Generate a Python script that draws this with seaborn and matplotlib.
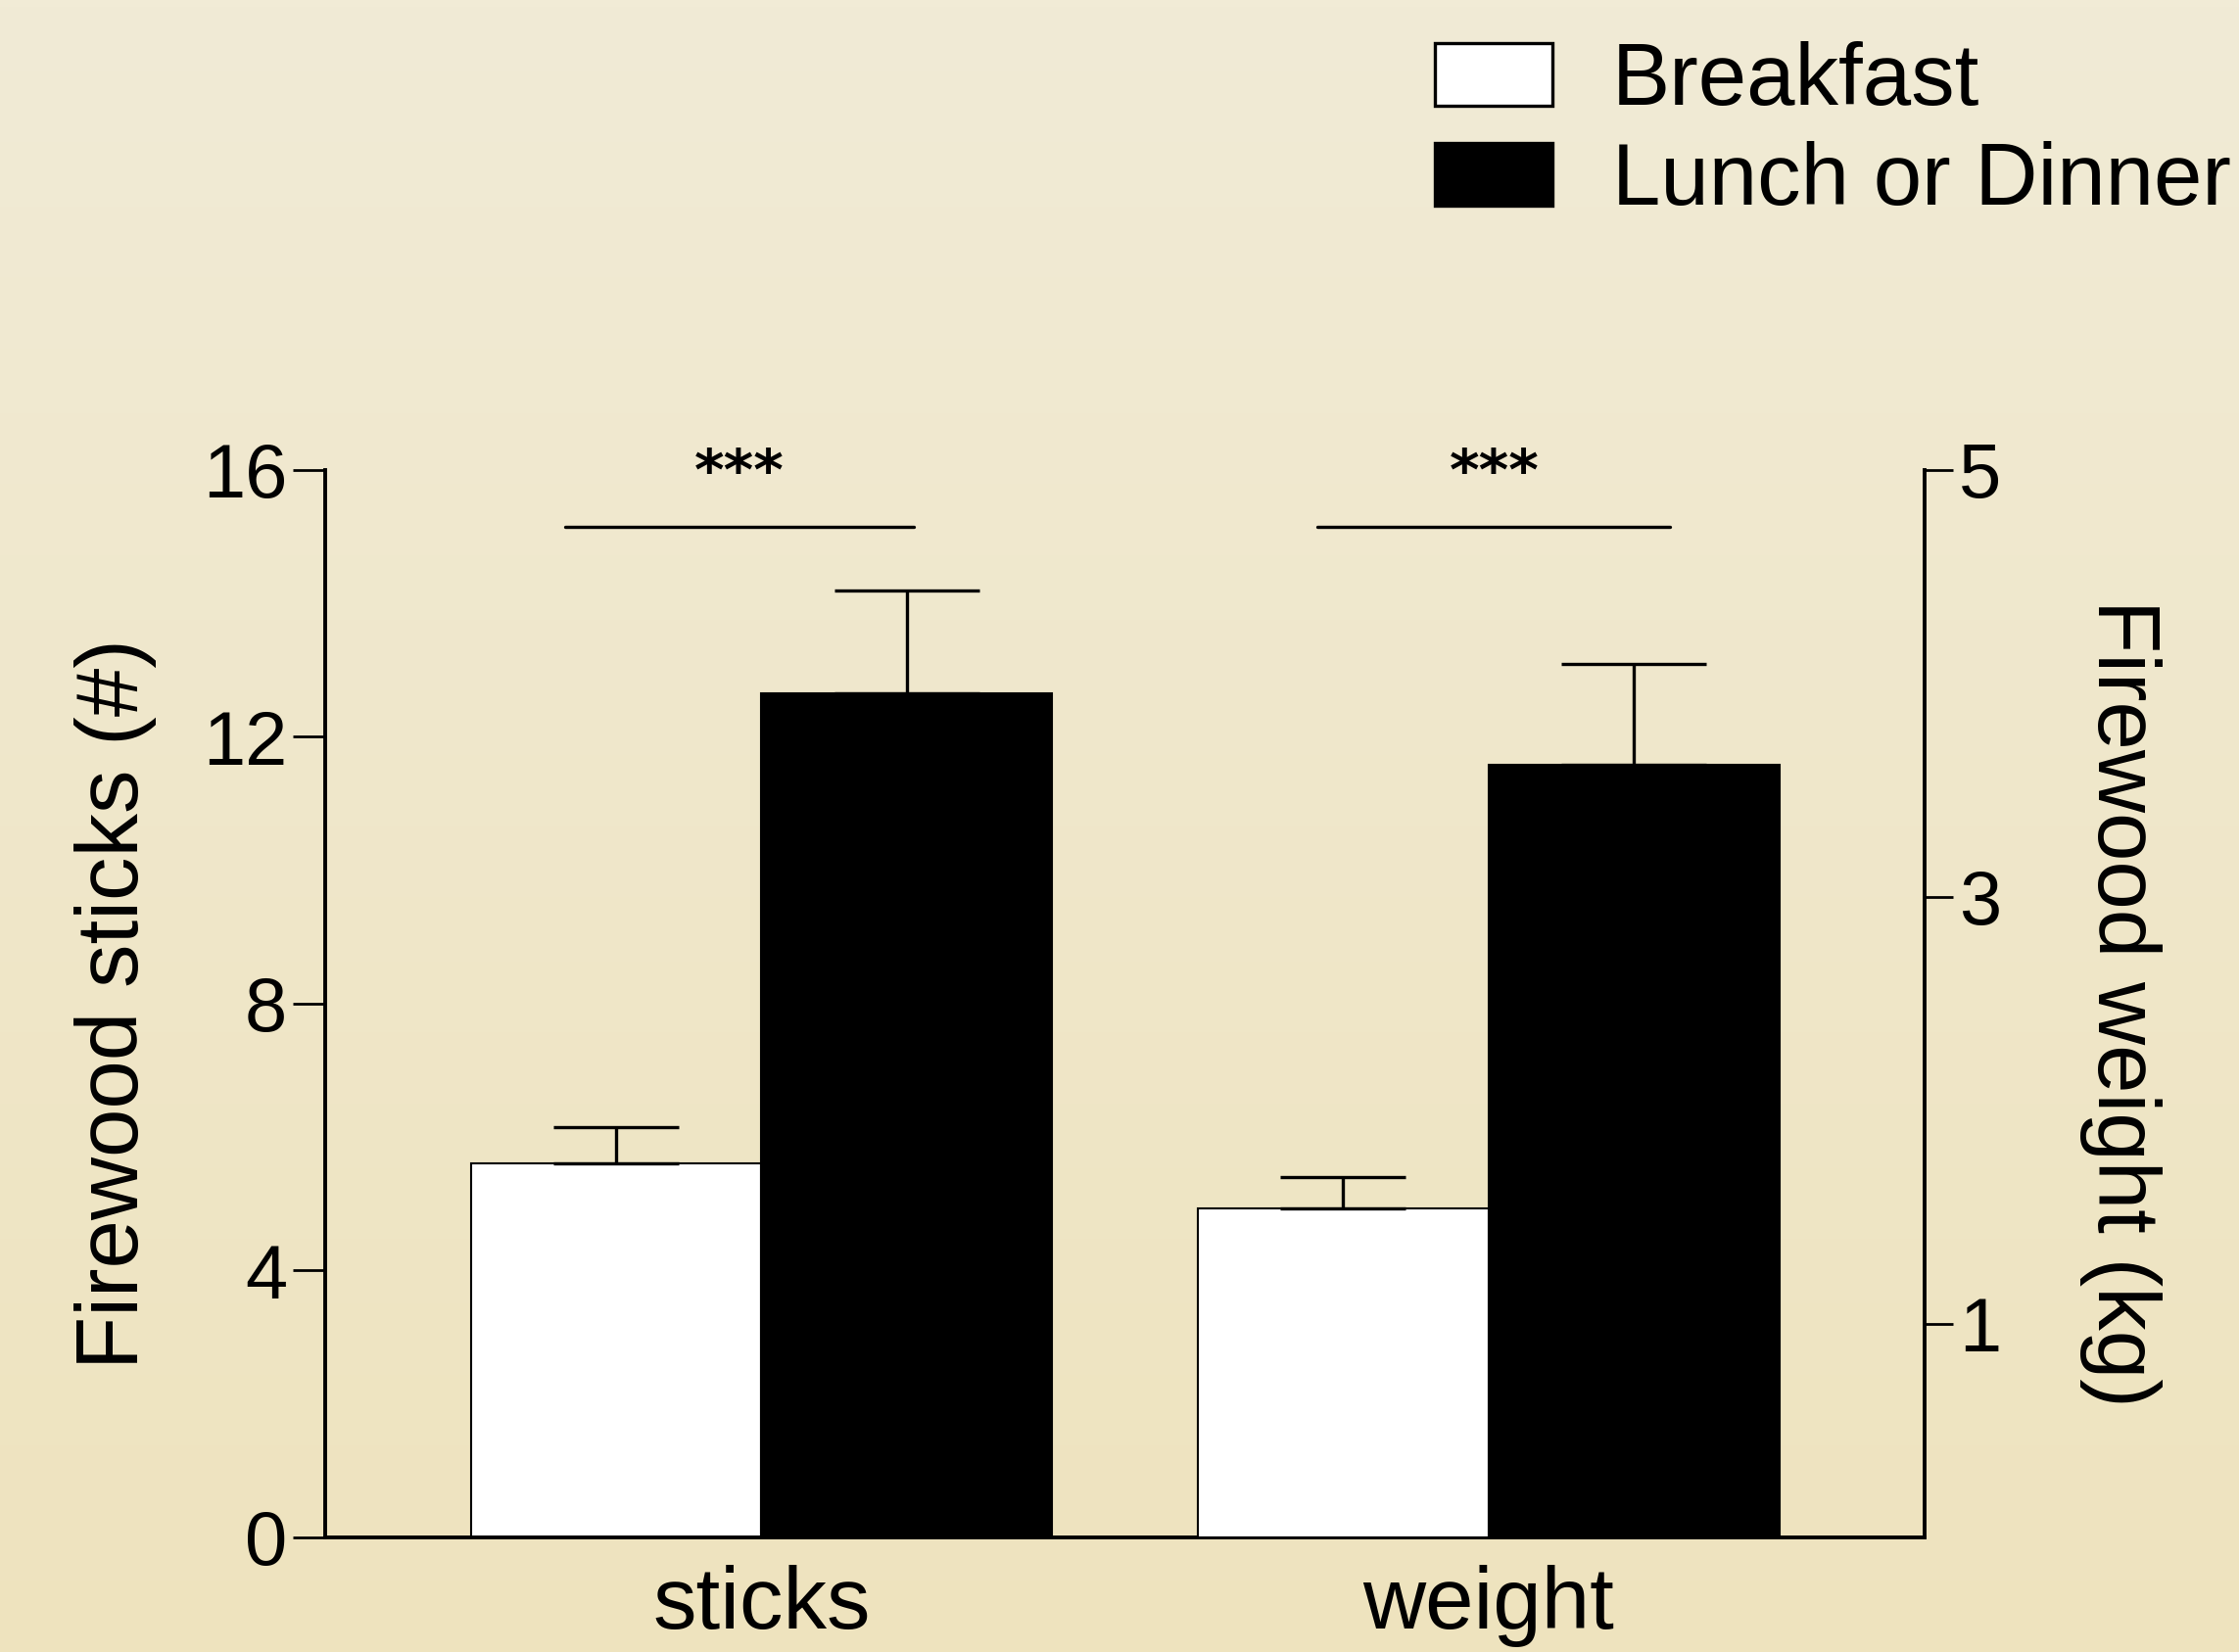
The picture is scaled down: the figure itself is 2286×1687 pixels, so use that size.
import numpy as np
import pandas as pd
import seaborn as sns
import matplotlib.pyplot as plt
from matplotlib.colors import LinearSegmentedColormap
from matplotlib.patches import Patch

sns.set_style("ticks")
plt.rcParams['font.family'] = ['Liberation Sans Narrow', 'Liberation Sans', 'DejaVu Sans']
for k in ['text.color', 'axes.labelcolor', 'xtick.color', 'ytick.color',
          'axes.edgecolor']:
    plt.rcParams[k] = 'black'

# values
meals = ['Breakfast', 'Lunch or Dinner']
sticks_mean = [5.6, 12.65]
sticks_err = [0.55, 1.55]
weight_mean = [1.54, 3.62]
weight_err = [0.15, 0.47]
categories = ['sticks', 'weight']
left_ticks = [0, 4, 8, 12, 16]
right_ticks = [1, 3, 5]
stars = ['***', '***']

df = pd.DataFrame({'measure': ['sticks'] * 2 + ['weight'] * 2,
                   'meal': meals * 2,
                   'value': sticks_mean + weight_mean,
                   'err': sticks_err + weight_err})

fig = plt.figure(figsize=(22.86, 16.87), dpi=100)

# cream gradient background
bg = fig.add_axes([0, 0, 1, 1], zorder=-10)
cmap = LinearSegmentedColormap.from_list('cream', ['#EEE3BE', '#F1EBD6'])
bg.imshow(np.linspace(0, 1, 256).reshape(-1, 1), cmap=cmap, aspect='auto',
          origin='lower', extent=[0, 1, 0, 1])
bg.set_axis_off()

ax = fig.add_axes([0.1453, 0.0694, 0.7143, 0.6461])
ax.set_facecolor('none')
ax2 = ax.twinx()

palette = {'Breakfast': 'white', 'Lunch or Dinner': 'black'}
sub1 = df[df.measure == 'sticks']
sub2 = df[df.measure == 'weight']
sns.barplot(data=sub1, x='measure', y='value', hue='meal', order=categories,
            hue_order=meals, palette=palette, errorbar=None, width=0.8,
            edgecolor='black', linewidth=1.5, legend=False, ax=ax)
sns.barplot(data=sub2, x='measure', y='value', hue='meal', order=categories,
            hue_order=meals, palette=palette, errorbar=None, width=0.8,
            edgecolor='black', linewidth=1.5, legend=False, ax=ax2)

caps = {'Breakfast': 46, 'Lunch or Dinner': 53}
for a, sub in [(ax, sub1), (ax2, sub2)]:
    for bar, (_, row) in zip(a.patches, sub.iterrows()):
        xc = bar.get_x() + bar.get_width() / 2
        a.errorbar(xc, row.value, yerr=[[0], [row.err]], fmt='none',
                   ecolor='black', elinewidth=2.4, capsize=caps[row.meal],
                   capthick=2.4, zorder=1)

ax.set_xlim(-0.6, 1.6)
ax.set_ylim(0, 16)
ax2.set_ylim(0, 5)
ax.set_yticks(left_ticks)
ax2.set_yticks(right_ticks)

# significance brackets (left axis units)
brackets = [(-0.27, 0.21), (-0.235, 0.25)]
for (x0, x1), s, c in zip(brackets, stars, range(len(categories))):
    ax.plot([c + x0, c + x1], [15.15, 15.15], color='black', lw=2.4,
            clip_on=False)
    ax.text(c + (x0 + x1) / 2, 15.95, s, ha='center', va='center',
            fontsize=42, fontweight='bold', family='DejaVu Sans')

for a in (ax, ax2):
    a.spines['top'].set_visible(False)
    for sp in a.spines.values():
        sp.set_linewidth(2.8)
ax.spines['right'].set_visible(False)
ax2.spines['left'].set_visible(False)
ax2.spines['bottom'].set_visible(False)

ax.tick_params(axis='y', length=24, width=2, labelsize=56, pad=4)
ax2.tick_params(axis='y', length=21, width=2, labelsize=56, pad=4)
ax.tick_params(axis='x', length=0, labelsize=64, pad=20)
for lab in ax.get_xticklabels():
    lab.set_x(lab.get_position()[0])
ax.set_xlabel('')
ax2.set_xlabel('')
ax.set_ylabel('Firewood sticks (#)', fontsize=64, labelpad=34)
ax2.set_ylabel('Firewood weight (kg)', fontsize=64, rotation=270,
               labelpad=118)

handles = [Patch(facecolor=palette[m], edgecolor='black', linewidth=2.4)
           for m in meals]
fig.legend(handles, meals, loc='upper left', bbox_to_anchor=(0.641, 0.975),
           frameon=False, fontsize=64, handlelength=1.35, handleheight=0.72,
           handletextpad=0.68, labelspacing=0.2, borderpad=0,
           borderaxespad=0)

fig.savefig('out.png', dpi=100)
